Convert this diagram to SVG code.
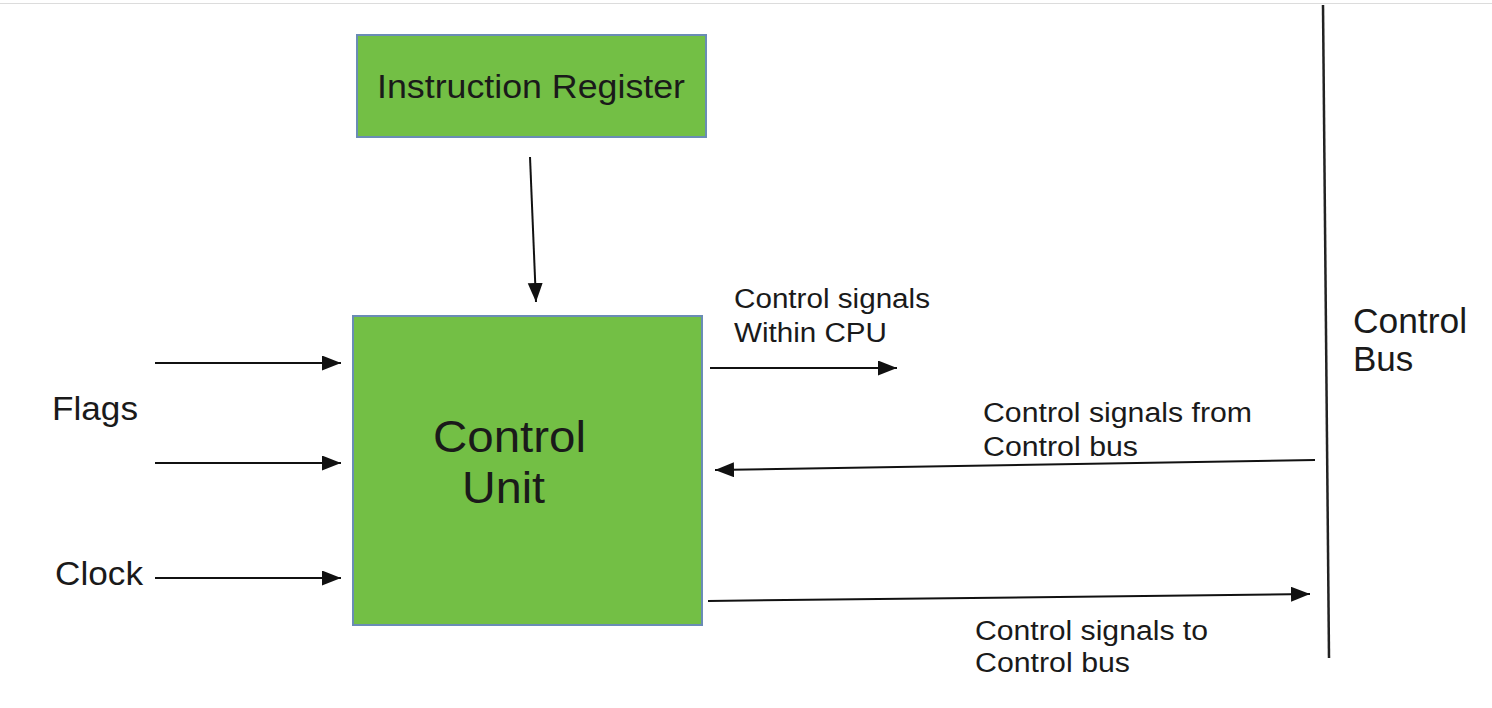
<svg xmlns="http://www.w3.org/2000/svg" width="1492" height="708" viewBox="0 0 1492 708">
<style>
.box{fill:#73bf45;stroke:#6a8cb5;stroke-width:2}
.t{font-family:"Liberation Sans",Arial,sans-serif;fill:#1a1a1a}
.c{stroke:#111;stroke-width:2;fill:none;marker-end:url(#ah)}
</style>
<defs>
<marker id="ah" markerUnits="userSpaceOnUse" markerWidth="22" markerHeight="18" refX="19" refY="7.5" orient="auto">
<path d="M0,0 L19,7.5 L0,15 z" fill="#111"/>
</marker>
</defs>
<rect width="1492" height="708" fill="#fff"/>
<line x1="0" y1="3.5" x2="1492" y2="3.5" stroke="#dcdcdc" stroke-width="1"/>
<g id="instruction-register">
<rect class="box" x="357" y="35" width="349" height="102"/>
<text class="t" x="531" y="98" font-size="34" text-anchor="middle" textLength="308" lengthAdjust="spacingAndGlyphs">Instruction Register</text>
</g>
<g id="control-unit">
<rect class="box" x="353" y="316" width="349" height="309"/>
<text class="t" x="433" y="452" font-size="44" textLength="153" lengthAdjust="spacingAndGlyphs">Control</text>
<text class="t" x="462" y="503" font-size="44" textLength="83" lengthAdjust="spacingAndGlyphs">Unit</text>
</g>
<g id="control-bus">
<line x1="1323" y1="5" x2="1329" y2="658" stroke="#222" stroke-width="2.5"/>
<text class="t" x="1353" y="333" font-size="35" textLength="114" lengthAdjust="spacingAndGlyphs">Control</text>
<text class="t" x="1353" y="371" font-size="35">Bus</text>
</g>
<g id="labels">
<text class="t" x="52" y="420" font-size="33" textLength="86" lengthAdjust="spacingAndGlyphs">Flags</text>
<text class="t" x="55" y="585" font-size="33" textLength="88" lengthAdjust="spacingAndGlyphs">Clock</text>
<text class="t" x="734" y="308" font-size="27" textLength="196" lengthAdjust="spacingAndGlyphs">Control signals</text>
<text class="t" x="734" y="342" font-size="27" textLength="153" lengthAdjust="spacingAndGlyphs">Within CPU</text>
<text class="t" x="983" y="422" font-size="27" textLength="269" lengthAdjust="spacingAndGlyphs">Control signals from</text>
<text class="t" x="983" y="456" font-size="27" textLength="155" lengthAdjust="spacingAndGlyphs">Control bus</text>
<text class="t" x="975" y="640" font-size="27" textLength="233" lengthAdjust="spacingAndGlyphs">Control signals to</text>
<text class="t" x="975" y="672" font-size="27" textLength="155" lengthAdjust="spacingAndGlyphs">Control bus</text>
</g>
<g id="connectors">
<line class="c" x1="530" y1="157" x2="536" y2="302"/>
<line class="c" x1="155" y1="363" x2="341" y2="363"/>
<line class="c" x1="155" y1="463" x2="341" y2="463"/>
<line class="c" x1="155" y1="578" x2="341" y2="578"/>
<line class="c" x1="710" y1="368" x2="897" y2="368"/>
<line class="c" x1="1315" y1="460" x2="715" y2="470"/>
<line class="c" x1="708" y1="601" x2="1310" y2="594"/>
</g>
</svg>
